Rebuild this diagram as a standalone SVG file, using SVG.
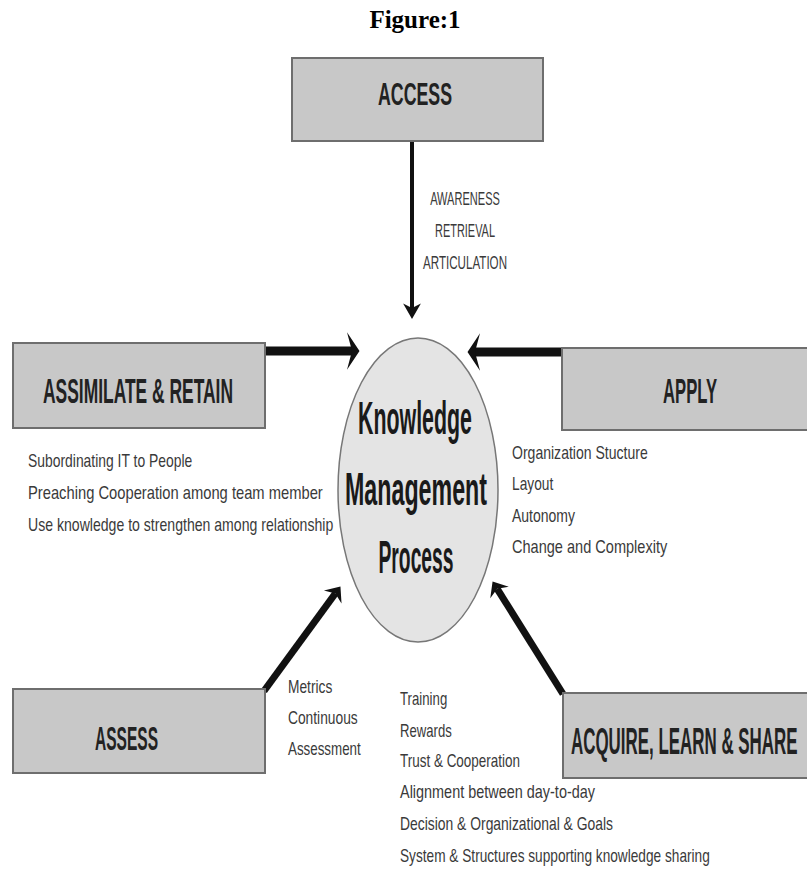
<svg xmlns="http://www.w3.org/2000/svg" width="807" height="870" viewBox="0 0 807 870">
<style>
.box{fill:#c8c8c8;stroke:#6e6e6e;stroke-width:2}
.head{font-family:"Liberation Sans",Arial,sans-serif;font-weight:bold;fill:#222}
.lbl{font-family:"Liberation Sans",Arial,sans-serif;font-size:18px;fill:#3a3a3a}
.mid{text-anchor:middle}
.kmp{font-family:"Liberation Sans",Arial,sans-serif;font-weight:bold;font-size:46px;fill:#1a1a1a;text-anchor:middle}
.conn{stroke:#111;fill:none}
</style>
<defs>
<marker id="hH" markerUnits="userSpaceOnUse" markerWidth="20" markerHeight="40" viewBox="0 -16 12 32" refX="4" refY="0" orient="auto">
<path d="M0,-15 L10,0 L0,15 L4,0 Z" fill="#111"/>
</marker>
<marker id="hV" markerUnits="userSpaceOnUse" markerWidth="20" markerHeight="20" viewBox="0 -9 15 18" refX="4" refY="0" orient="auto">
<path d="M0,-8 L14,0 L0,8 L4,0 Z" fill="#111"/>
</marker>
<marker id="hD" markerUnits="userSpaceOnUse" markerWidth="20" markerHeight="24" viewBox="0 -11 13 22" refX="4" refY="0" orient="auto">
<path d="M0,-10 L12,0 L0,10 L4,0 Z" fill="#111"/>
</marker>
</defs>
<rect width="807" height="870" fill="#fff"/>
<text x="415" y="28" font-family="Liberation Serif,'Times New Roman',serif" font-weight="bold" font-size="25" text-anchor="middle" fill="#000">Figure:1</text>

<g id="connectors">
<line class="conn" x1="412" y1="141" x2="412" y2="308" stroke-width="4" marker-end="url(#hV)"/>
<line class="conn" x1="265" y1="351" x2="352" y2="351" stroke-width="9" marker-end="url(#hH)"/>
<line class="conn" x1="562" y1="352" x2="475" y2="352" stroke-width="9" marker-end="url(#hH)"/>
<line class="conn" x1="264" y1="691" x2="335.3" y2="593.5" stroke-width="7" marker-end="url(#hD)"/>
<line class="conn" x1="563" y1="694" x2="497.2" y2="588.8" stroke-width="7" marker-end="url(#hD)"/>
<g id="access-labels">
<text class="lbl mid" transform="translate(465,205) scale(0.75,1)" textLength="93" lengthAdjust="spacingAndGlyphs">AWARENESS</text>
<text class="lbl mid" transform="translate(465,237) scale(0.75,1)" textLength="80" lengthAdjust="spacingAndGlyphs">RETRIEVAL</text>
<text class="lbl mid" transform="translate(465,269) scale(0.75,1)" textLength="112" lengthAdjust="spacingAndGlyphs">ARTICULATION</text>
</g>
<g id="assess-labels">
<text class="lbl" transform="translate(288,693) scale(0.75,1)" textLength="59" lengthAdjust="spacingAndGlyphs">Metrics</text>
<text class="lbl" transform="translate(288,724) scale(0.75,1)" textLength="93" lengthAdjust="spacingAndGlyphs">Continuous</text>
<text class="lbl" transform="translate(288,755) scale(0.75,1)" textLength="97" lengthAdjust="spacingAndGlyphs">Assessment</text>
</g>
</g>

<g id="kmp">
<ellipse cx="418" cy="490" rx="80" ry="152" fill="#e4e4e4" stroke="#777" stroke-width="1.5"/>
<text class="kmp" transform="translate(415,434) scale(0.5,1)" textLength="228" lengthAdjust="spacingAndGlyphs">Knowledge</text>
<text class="kmp" transform="translate(416,505) scale(0.5,1)" textLength="284" lengthAdjust="spacingAndGlyphs">Management</text>
<text class="kmp" transform="translate(416,573) scale(0.5,1)" textLength="150" lengthAdjust="spacingAndGlyphs">Process</text>
</g>

<g id="access">
<rect class="box" x="292" y="58" width="251" height="83"/>
<text class="head" font-size="31" transform="translate(378,105) scale(0.5,1)" textLength="148" lengthAdjust="spacingAndGlyphs">ACCESS</text>
</g>

<g id="assimilate">
<rect class="box" x="13" y="343" width="252" height="85"/>
<text class="head" font-size="36" transform="translate(43,403) scale(0.5,1)" textLength="380" lengthAdjust="spacingAndGlyphs">ASSIMILATE &amp; RETAIN</text>
<text class="lbl" transform="translate(28,467) scale(0.75,1)" textLength="219" lengthAdjust="spacingAndGlyphs">Subordinating IT to People</text>
<text class="lbl" transform="translate(28,499) scale(0.75,1)" textLength="393" lengthAdjust="spacingAndGlyphs">Preaching Cooperation among team member</text>
<text class="lbl" transform="translate(28,531) scale(0.75,1)" textLength="407" lengthAdjust="spacingAndGlyphs">Use knowledge to strengthen among relationship</text>
</g>

<g id="apply">
<rect class="box" x="562" y="348" width="250" height="82"/>
<text class="head" font-size="36" transform="translate(663,403) scale(0.5,1)" textLength="108" lengthAdjust="spacingAndGlyphs">APPLY</text>
<text class="lbl" transform="translate(512,459) scale(0.75,1)" textLength="181" lengthAdjust="spacingAndGlyphs">Organization Stucture</text>
<text class="lbl" transform="translate(512,490) scale(0.75,1)" textLength="55" lengthAdjust="spacingAndGlyphs">Layout</text>
<text class="lbl" transform="translate(512,522) scale(0.75,1)" textLength="84" lengthAdjust="spacingAndGlyphs">Autonomy</text>
<text class="lbl" transform="translate(512,553) scale(0.75,1)" textLength="207" lengthAdjust="spacingAndGlyphs">Change and Complexity</text>
</g>

<g id="assess">
<rect class="box" x="13" y="689" width="252" height="84"/>
<text class="head" font-size="34" transform="translate(95,750) scale(0.5,1)" textLength="126" lengthAdjust="spacingAndGlyphs">ASSESS</text>
</g>

<g id="acquire">
<rect class="box" x="563" y="693" width="250" height="85"/>
<text class="head" font-size="36" transform="translate(571,754) scale(0.47,1)" textLength="482" lengthAdjust="spacingAndGlyphs">ACQUIRE, LEARN &amp; SHARE</text>
<text class="lbl" transform="translate(400,705) scale(0.75,1)" textLength="63" lengthAdjust="spacingAndGlyphs">Training</text>
<text class="lbl" transform="translate(400,737) scale(0.75,1)" textLength="69" lengthAdjust="spacingAndGlyphs">Rewards</text>
<text class="lbl" transform="translate(400,767) scale(0.75,1)" textLength="160" lengthAdjust="spacingAndGlyphs">Trust &amp; Cooperation</text>
<text class="lbl" transform="translate(400,798) scale(0.75,1)" textLength="260" lengthAdjust="spacingAndGlyphs">Alignment between day-to-day</text>
<text class="lbl" transform="translate(400,830) scale(0.75,1)" textLength="284" lengthAdjust="spacingAndGlyphs">Decision &amp; Organizational &amp; Goals</text>
<text class="lbl" transform="translate(400,862) scale(0.75,1)" textLength="413" lengthAdjust="spacingAndGlyphs">System &amp; Structures supporting knowledge sharing</text>
</g>
</svg>
